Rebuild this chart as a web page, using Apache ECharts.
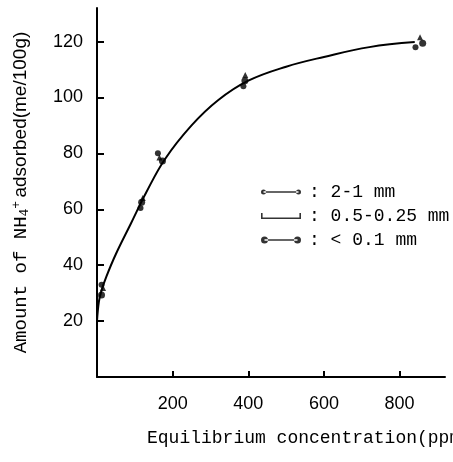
<!DOCTYPE html>
<html>
<head>
<meta charset="utf-8">
<script src="https://cdn.jsdelivr.net/npm/echarts@6/dist/echarts.min.js"></script>
<style>
  html, body { margin: 0; padding: 0; background: #fff; }
  #chart { width: 453px; height: 462px; }
</style>
</head>
<body>
<div id="chart"></div>
<script>
// values
const xTicks = [200, 400, 600, 800]
const yTicks = [20, 40, 60, 80, 100, 120]

const coarse = [[12, 33], [115, 60.5], [161, 80], [387, 104], [842, 118]]      // 2-1 mm
const medium = [[16, 31.8], [121, 64], [165, 78.5], [392, 108], [854, 121.5]]  // 0.5-0.25 mm
const fine = [[12, 29.3], [118, 62.5], [173, 77.3], [391, 106], [861, 119.4]]  // < 0.1 mm

// hand-drawn fitted curve
const curve = [
  [0, 20], [5, 27], [12, 31], [25, 36], [50, 44], [90, 55], [130, 66],
  [180, 78], [250, 90], [320, 99], [400, 106], [500, 111], [600, 114.5],
  [720, 118], [840, 119.8]
]

const MONO = 'Liberation Mono'
const SANS = 'Liberation Sans'

const chart = echarts.init(document.getElementById('chart'))

const circle = (cx, r) =>
  'M' + (cx - r) + ',4a' + r + ',' + r + ' 0 1,0 ' + 2 * r + ',0a' + r + ',' + r + ' 0 1,0 -' + 2 * r + ',0z'
const dotIcon = r => 'path://' + circle(r, r) + 'M' + r + ',3.2h' + (40 - 2 * r) + 'v1.6h-' + (40 - 2 * r) + 'z' + circle(40 - r, r)
const tickIcon = 'path://M0,5.4h40v1.6h-40zM0,1h1.6v6h-1.6zM38.4,1h1.6v6h-1.6z'

chart.setOption({
  animation: false,
  backgroundColor: '#fff',
  grid: { left: 97, right: 8, top: 8, bottom: 85, outerBoundsMode: 'none' },
  legend: {
    orient: 'vertical',
    left: 256,
    top: 178,
    itemWidth: 40,
    itemHeight: 8,
    itemGap: 6,
    textStyle: { fontFamily: MONO, fontSize: 18, color: '#000', padding: [0, 0, 0, 3] },
    formatter: name => ': ' + name,
    data: [
      { name: '2-1 mm', icon: dotIcon(2.5) },
      { name: '0.5-0.25 mm', icon: tickIcon },
      { name: '< 0.1 mm', icon: dotIcon(3.5) }
    ]
  },
  xAxis: {
    type: 'value',
    min: 0,
    max: 920,
    name: 'Equilibrium concentration(ppm)',
    nameLocation: 'middle',
    nameGap: 52,
    nameTextStyle: { fontFamily: MONO, fontSize: 18, color: '#000', padding: [0, 0, 0, 76] },
    axisLine: { lineStyle: { color: '#000', width: 2 } },
    axisTick: { inside: true, length: 6, customValues: xTicks, lineStyle: { color: '#000', width: 2 } },
    axisLabel: { customValues: xTicks, margin: 18, fontFamily: SANS, fontSize: 18, color: '#000' },
    splitLine: { show: false }
  },
  yAxis: {
    type: 'value',
    min: 0,
    max: 132,
    name: '{m|Amount of NH}{s|4}{p|+} {a|adsorbed(me/100g)}',
    nameLocation: 'middle',
    nameGap: 66,
    nameTextStyle: {
      color: '#000',
      rich: {
        m: { fontFamily: MONO, fontSize: 19, color: '#000' },
        s: { fontFamily: MONO, fontSize: 13, color: '#000', verticalAlign: 'bottom', padding: [8, 0, 0, 0] },
        p: { fontFamily: MONO, fontSize: 13, color: '#000', verticalAlign: 'top', padding: [0, 0, 8, 0] },
        a: { fontFamily: SANS, fontSize: 19, color: '#000' }
      }
    },
    axisLine: { lineStyle: { color: '#000', width: 2 } },
    axisTick: { inside: true, length: 7, customValues: yTicks, lineStyle: { color: '#000', width: 2 } },
    axisLabel: { customValues: yTicks, margin: 14, fontFamily: SANS, fontSize: 18, color: '#000' },
    splitLine: { show: false }
  },
  series: [
    {
      type: 'line',
      data: curve,
      smooth: 0.4,
      showSymbol: false,
      silent: true,
      lineStyle: { color: '#000', width: 2 }
    },
    { name: '2-1 mm', type: 'scatter', data: coarse, symbol: 'circle', symbolSize: 6, itemStyle: { color: '#000' } },
    { name: '0.5-0.25 mm', type: 'scatter', data: medium, symbol: 'triangle', symbolSize: 6, itemStyle: { color: '#000' } },
    { name: '< 0.1 mm', type: 'scatter', data: fine, symbol: 'circle', symbolSize: 7, itemStyle: { color: '#000' } }
  ]
})

window.addEventListener('resize', () => chart.resize())
</script>
</body>
</html>
